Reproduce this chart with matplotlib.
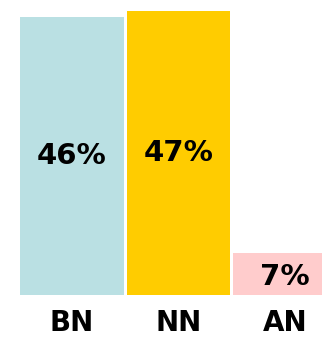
import matplotlib.pyplot as plt

# Share of each category
categories = ['BN', 'NN', 'AN']
values = [46, 47, 7]
colors = ['#bae0e3', '#ffcc00', '#ffcccc']

fig = plt.figure(figsize=(3.22, 3.38), dpi=100)
ax = fig.add_axes([0, 1 - 295 / 338, 1, 295 / 338])

x = range(len(categories))
bars = ax.bar(x, values, width=0.97, color=colors)

# percentage in the middle of each bar, the small one sits a bit lower
for bar, v in zip(bars, values):
    cx = bar.get_x() + bar.get_width() / 2
    cy = v / 2 if v > 10 else v * 0.42
    ax.text(cx, cy, f'{v}%', ha='center', va='center',
            fontsize=21, fontweight='bold', color='black')

ax.set_xlim(-0.676, 2.347)
ax.set_ylim(0, 47 * 295 / 284)

ax.set_xticks(list(x))
ax.set_xticklabels(categories, fontsize=20, fontweight='bold')
ax.tick_params(axis='x', length=0, pad=10)
ax.set_yticks([])
for s in ax.spines.values():
    s.set_visible(False)

fig.savefig('out.png', dpi=100)
